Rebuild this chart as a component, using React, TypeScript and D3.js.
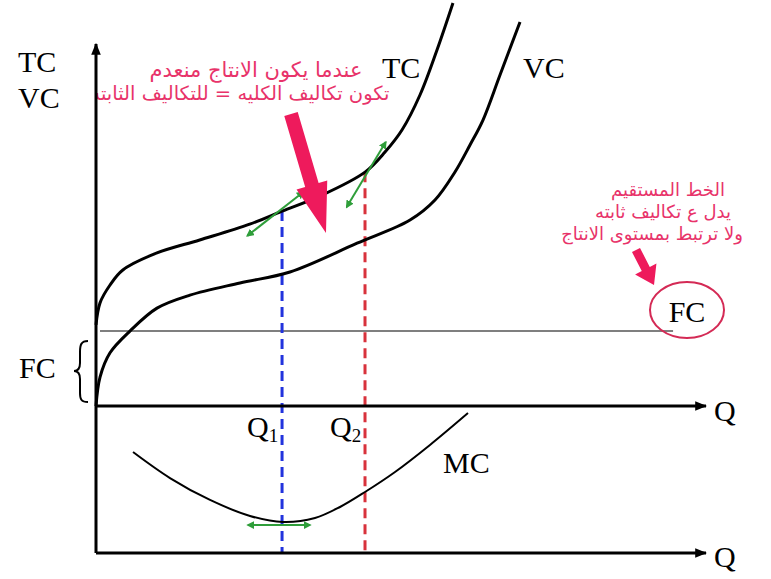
import React from "react";
import * as d3 from "d3";

// Output quantity samples and cost readings for the short-run cost curves
const qVC = [0, 0.66, 2.3, 5.6, 10, 15.4, 23.6, 31.8, 42.8, 51.48, 55.57, 58.85, 61.31, 63.44, 66.23, 69.51];
const vcValues = [0, 7.1, 13.1, 18.5, 24.1, 27.3, 30.3, 33.0, 40.1, 45.81, 50.74, 57.64, 64.29, 70.44, 81.53, 94.58];

const qTC = [0, 0.66, 2.3, 4.4, 10, 17, 25.2, 30.5, 36.7, 44.1, 47.38, 50.16, 53.11, 55.9, 58.52];
const tcValues = [20, 25.4, 29.8, 33.5, 37.7, 40.9, 44.8, 48, 51.7, 57.6, 62.56, 67.98, 76.6, 87.68, 99.26];

const fixedCost = 18.5;

const qMC = [6.07, 12.13, 18.69, 25.25, 30.66, 35.9, 40.0, 44.1, 49.02, 54.75, 60.98];
const mcValues = [68.7, 51.0, 36.1, 25.2, 21.1, 23.8, 31.3, 41.5, 55.1, 73.5, 95.2];

const Q1 = 30.5;
const Q2 = 44.1;
const tcAtQ1 = 48;
const tcAtQ2 = 57.6;

// Tangent segments [q0, c0, q1, c1]
const tangentQ1 = [24.8, 41.9, 34.0, 52.7];
const tangentQ2 = [41.1, 49.0, 47.5, 65.0];
const tangentMC = [24.9, 19.0, 35.1, 19.0];

const topNote = ["عندما يكون الانتاج منعدم", "تكون تكاليف الكليه = للتكاليف الثابته"];
const sideNote = ["الخط المستقيم", "يدل ع تكاليف ثابته", "ولا ترتبط بمستوى الانتاج"];

const W = 771;
const H = 579;

const x = d3.scaleLinear().domain([0, 100]).range([96, 706]);
const y = d3.scaleLinear().domain([0, 100]).range([406, 0]);
const yMC = d3.scaleLinear().domain([0, 100]).range([553, 406]);

const SERIF = "'Liberation Serif', 'Times New Roman', serif";
const ARABIC = "'DejaVu Sans', sans-serif";
const RED = "#ee1a5c";
const TEXT_RED = "#e8336a";
const GREEN = "#2f9e3a";

const costLine = d3
  .line<[number, number]>()
  .x((d) => x(d[0]))
  .y((d) => y(d[1]))
  .curve(d3.curveCatmullRom.alpha(0.5));

const mcLine = d3
  .line<[number, number]>()
  .x((d) => x(d[0]))
  .y((d) => yMC(d[1]))
  .curve(d3.curveCatmullRom.alpha(0.5));

// Block arrow polygon from (x0,y0) to tip (x1,y1)
function blockArrow(x0: number, y0: number, x1: number, y1: number, shaft: number, head: number, headLen: number) {
  const dx = x1 - x0;
  const dy = y1 - y0;
  const len = Math.hypot(dx, dy);
  const ux = dx / len;
  const uy = dy / len;
  const px = -uy;
  const py = ux;
  const bx = x1 - ux * headLen;
  const by = y1 - uy * headLen;
  const pts = [
    [x0 + px * shaft / 2, y0 + py * shaft / 2],
    [bx + px * shaft / 2, by + py * shaft / 2],
    [bx + px * head / 2, by + py * head / 2],
    [x1, y1],
    [bx - px * head / 2, by - py * head / 2],
    [bx - px * shaft / 2, by - py * shaft / 2],
    [x0 - px * shaft / 2, y0 - py * shaft / 2],
  ];
  return pts.map((p) => p.join(",")).join(" ");
}

function DoubleArrow({ seg, yScale }: { seg: number[]; yScale: d3.ScaleLinear<number, number> }) {
  return (
    <line
      x1={x(seg[0])}
      y1={yScale(seg[1])}
      x2={x(seg[2])}
      y2={yScale(seg[3])}
      stroke={GREEN}
      strokeWidth={2}
      markerStart="url(#greenHead)"
      markerEnd="url(#greenHead)"
    />
  );
}

export default function App() {
  const vcPts = qVC.map((q, i) => [q, vcValues[i]] as [number, number]);
  const tcPts = qTC.map((q, i) => [q, tcValues[i]] as [number, number]);
  const mcPts = qMC.map((q, i) => [q, mcValues[i]] as [number, number]);

  const axisX0 = x(0);
  const axisEnd = x(100);

  return (
    <svg
      width={W}
      height={H}
      viewBox={`0 0 ${W} ${H}`}
      style={{ position: "absolute", left: 0, top: 0, background: "#fff" }}
    >
      <defs>
        <marker id="axisHead" viewBox="0 0 10 10" refX="9" refY="5" markerWidth="4" markerHeight="4" orient="auto">
          <path d="M0,1 L10,5 L0,9 z" fill="#000" />
        </marker>
        <marker id="greenHead" viewBox="0 0 10 10" refX="8" refY="5" markerWidth="4" markerHeight="4" orient="auto-start-reverse">
          <path d="M0,0 L10,5 L0,10 z" fill={GREEN} />
        </marker>
        <clipPath id="rightOfAxis">
          <rect x={axisX0 + 1} y={0} width={W} height={H} />
        </clipPath>
      </defs>

      {/* Arabic note at the top */}
      <g clipPath="url(#rightOfAxis)" fontFamily={ARABIC} fill={TEXT_RED} textAnchor="middle">
        <text x={256} y={77} fontSize={21} direction="rtl">{topNote[0]}</text>
        <text x={240} y={100} fontSize={19.5} direction="rtl">{topNote[1]}</text>
      </g>

      {/* Arabic note on the right */}
      <g fontFamily={ARABIC} fontSize={18} fill={TEXT_RED} textAnchor="middle">
        <text x={668} y={196} direction="rtl">{sideNote[0]}</text>
        <text x={663} y={218} direction="rtl">{sideNote[1]}</text>
        <text x={652} y={240} direction="rtl">{sideNote[2]}</text>
      </g>

      {/* Fixed cost line */}
      <line x1={axisX0 + 4} x2={x(94.6)} y1={y(fixedCost)} y2={y(fixedCost)} stroke="#555" strokeWidth={1.5} />

      {/* Dashed guides at Q1 and Q2 */}
      <line x1={x(Q1)} x2={x(Q1)} y1={y(tcAtQ1)} y2={yMC(0)} stroke="#2233dd" strokeWidth={3} strokeDasharray="10 6" />
      <line x1={x(Q2)} x2={x(Q2)} y1={y(tcAtQ2)} y2={yMC(0)} stroke="#d8323c" strokeWidth={3} strokeDasharray="10 6" />

      {/* Cost curves */}
      <path d={costLine(vcPts) || ""} fill="none" stroke="#000" strokeWidth={3} />
      <path d={costLine(tcPts) || ""} fill="none" stroke="#000" strokeWidth={3} />
      <path d={mcLine(mcPts) || ""} fill="none" stroke="#000" strokeWidth={2} />

      {/* Tangents */}
      <DoubleArrow seg={tangentQ1} yScale={y} />
      <DoubleArrow seg={tangentQ2} yScale={y} />
      <DoubleArrow seg={tangentMC} yScale={yMC} />

      {/* Axes */}
      <line x1={axisX0} y1={yMC(0)} x2={axisX0} y2={44} stroke="#000" strokeWidth={3} markerEnd="url(#axisHead)" />
      <line x1={axisX0} y1={y(0)} x2={axisEnd} y2={y(0)} stroke="#000" strokeWidth={3} markerEnd="url(#axisHead)" />
      <line x1={axisX0} y1={yMC(0)} x2={axisEnd} y2={yMC(0)} stroke="#000" strokeWidth={3} markerEnd="url(#axisHead)" />

      {/* Brace marking the fixed cost */}
      <path
        d="M88 341 C81 341 80 345 80 352 L80 363 C80 369 78 371 74 371 C78 371 80 373 80 379 L80 393 C80 399 81 402 88 402"
        fill="none"
        stroke="#000"
        strokeWidth={2}
      />

      {/* Red pointer arrows */}
      <polygon points={blockArrow(291, 114, 326, 233, 14, 32, 50)} fill={RED} />
      <polygon points={blockArrow(636, 250, 654, 285, 9, 24, 18)} fill={RED} />

      {/* FC circle */}
      <ellipse cx={687} cy={310} rx={37} ry={28} fill="none" stroke="#d42a55" strokeWidth={2} />

      {/* Serif labels */}
      <g fontFamily={SERIF} fontSize={30} fill="#000">
        <text x={18} y={72}>TC</text>
        <text x={18} y={108}>VC</text>
        <text x={19} y={378}>FC</text>
        <text x={382} y={78}>TC</text>
        <text x={523} y={78}>VC</text>
        <text x={443} y={473}>MC</text>
        <text x={714} y={421}>Q</text>
        <text x={714} y={567}>Q</text>
        <text x={687} y={322} textAnchor="middle">FC</text>
        <text x={247} y={437}>
          Q<tspan fontSize={19} dy={5}>1</tspan>
        </text>
        <text x={330} y={437}>
          Q<tspan fontSize={19} dy={5}>2</tspan>
        </text>
      </g>
    </svg>
  );
}
